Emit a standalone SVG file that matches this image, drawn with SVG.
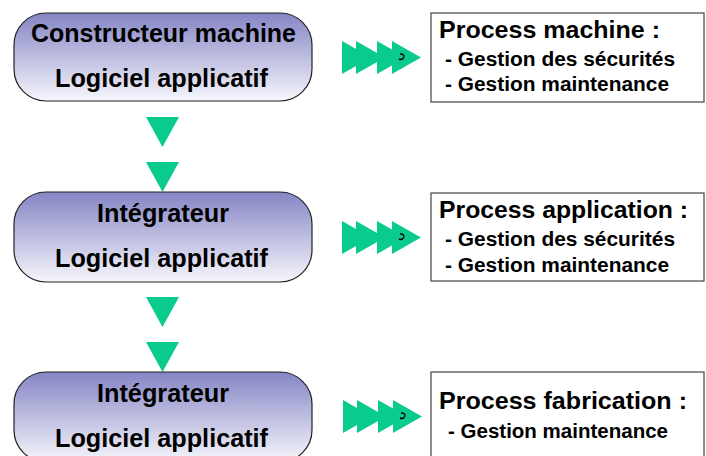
<svg xmlns="http://www.w3.org/2000/svg" width="706" height="456" viewBox="0 0 706 456">
<defs>
<linearGradient id="g" x1="0" y1="0" x2="0" y2="1">
<stop offset="0" stop-color="#8585c5"/>
<stop offset="1" stop-color="#f6f6fc"/>
</linearGradient>
</defs>
<style>
.box{fill:url(#g);stroke:#222;stroke-width:1.2}
.tb{fill:#fff;stroke:#444;stroke-width:1.2}
.t{font-family:"Liberation Sans",Arial,sans-serif;font-weight:bold;fill:#000}
.big{font-size:25px}
.title{font-size:23px}
.sub{font-size:20px}
.arr{fill:#0acb8e}
.hook{fill:none;stroke:#000;stroke-width:1.4}
</style>
<rect width="706" height="456" fill="#fff"/>
<g id="connectors">
<polygon class="arr" points="146,117 179,117 162.5,147"/>
<polygon class="arr" points="146,162 179,162 162.5,192"/>
<polygon class="arr" points="146,297 179,297 162.5,327"/>
<polygon class="arr" points="146,342 179,342 162.5,372"/>
<g id="arrow1">
<polygon class="arr" points="342,41 371,57.5 342,74"/>
<polygon class="arr" points="356,41 385,57.5 356,74"/>
<polygon class="arr" points="377,41 406,57.5 377,74"/>
<polygon class="arr" points="392,41 421,57.5 392,74"/>
<path class="hook" d="M400,54 C404,53.5 405,57 403,58.5 C402,59.5 400,59.5 399,59"/>
</g>
<g id="arrow2">
<polygon class="arr" points="342,221 371,237.5 342,254"/>
<polygon class="arr" points="356,221 385,237.5 356,254"/>
<polygon class="arr" points="377,221 406,237.5 377,254"/>
<polygon class="arr" points="392,221 421,237.5 392,254"/>
<path class="hook" d="M400,234 C404,233.5 405,237 403,238.5 C402,239.5 400,239.5 399,239"/>
</g>
<g id="arrow3">
<polygon class="arr" points="343,400 372,416.5 343,433"/>
<polygon class="arr" points="357,400 386,416.5 357,433"/>
<polygon class="arr" points="378,400 407,416.5 378,433"/>
<polygon class="arr" points="393,400 422,416.5 393,433"/>
<path class="hook" d="M401,413 C405,412.5 406,416 404,417.5 C403,418.5 401,418.5 400,418"/>
</g>
</g>
<g id="node1">
<rect class="box" x="14" y="13" width="298" height="88" rx="32"/>
<text class="t big" x="31" y="42" textLength="265" lengthAdjust="spacingAndGlyphs">Constructeur machine</text>
<text class="t big" x="55" y="87" textLength="213" lengthAdjust="spacingAndGlyphs">Logiciel applicatif</text>
</g>
<g id="node2">
<rect class="box" x="14" y="192" width="298" height="90" rx="32"/>
<text class="t big" x="97" y="222" textLength="132" lengthAdjust="spacingAndGlyphs">Intégrateur</text>
<text class="t big" x="55" y="267" textLength="213" lengthAdjust="spacingAndGlyphs">Logiciel applicatif</text>
</g>
<g id="node3">
<rect class="box" x="14" y="372" width="298" height="90" rx="32"/>
<text class="t big" x="97" y="402" textLength="132" lengthAdjust="spacingAndGlyphs">Intégrateur</text>
<text class="t big" x="55" y="447" textLength="213" lengthAdjust="spacingAndGlyphs">Logiciel applicatif</text>
</g>
<g id="process1">
<rect class="tb" x="431" y="13" width="273" height="89"/>
<text class="t title" x="439" y="38" textLength="221" lengthAdjust="spacingAndGlyphs">Process machine :</text>
<text class="t sub" x="445" y="66" textLength="230" lengthAdjust="spacingAndGlyphs">- Gestion des sécurités</text>
<text class="t sub" x="445" y="91" textLength="224" lengthAdjust="spacingAndGlyphs">- Gestion maintenance</text>
</g>
<g id="process2">
<rect class="tb" x="431" y="193" width="273" height="88"/>
<text class="t title" x="439" y="218" textLength="249" lengthAdjust="spacingAndGlyphs">Process application :</text>
<text class="t sub" x="445" y="246" textLength="230" lengthAdjust="spacingAndGlyphs">- Gestion des sécurités</text>
<text class="t sub" x="445" y="272" textLength="224" lengthAdjust="spacingAndGlyphs">- Gestion maintenance</text>
</g>
<g id="process3">
<rect class="tb" x="431" y="372" width="273" height="90"/>
<text class="t title" x="439" y="409" textLength="248" lengthAdjust="spacingAndGlyphs">Process fabrication :</text>
<text class="t sub" x="448" y="438" textLength="220" lengthAdjust="spacingAndGlyphs">- Gestion maintenance</text>
</g>
</svg>
